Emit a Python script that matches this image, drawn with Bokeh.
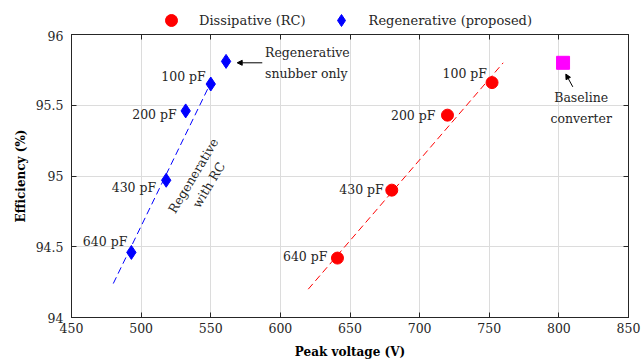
import math
from bokeh.plotting import figure
from bokeh.layouts import column
from bokeh.models import (ColumnDataSource, LinearAxis, Legend, LegendItem, Arrow,
                          NormalHead, FixedTicker, Range1d, Label)
from bokeh.core.properties import value
from bokeh.embed import file_html
from bokeh.resources import INLINE

# ---- data ----
regen_v = [493, 518, 532, 550]
regen_eff = [94.46, 94.97, 95.46, 95.65]
regen_labels = ["640 pF", "430 pF", "200 pF", "100 pF"]

snubber_only_v = [561]
snubber_only_eff = [95.81]

diss_v = [641, 680, 720, 752]
diss_eff = [94.42, 94.90, 95.43, 95.66]
diss_labels = ["640 pF", "430 pF", "200 pF", "100 pF"]

baseline_v = [803]
baseline_eff = [95.80]

regen_fit_v = [480, 550]
regen_fit_eff = [94.24, 95.66]
diss_fit_v = [620, 760]
diss_fit_eff = [94.20, 95.80]

x_ticks = [450, 500, 550, 600, 650, 700, 750, 800, 850]
y_ticks = [94, 94.5, 95, 95.5, 96]

series_names = ["Dissipative (RC)", "Regenerative (proposed)"]

FONT = "DejaVu Serif"

p = figure(width=642, height=334, output_backend="svg", toolbar_location=None,
           x_range=Range1d(450, 850), y_range=Range1d(94, 96),
           min_border_left=71, min_border_right=14, min_border_top=4, min_border_bottom=47)
p.outline_line_color = "#262626"
p.background_fill_color = "white"
p.border_fill_color = "white"

for ax in (p.xaxis[0], p.yaxis[0]):
    ax.major_tick_in = 5
    ax.major_tick_out = 0
    ax.minor_tick_line_color = None
    ax.axis_line_color = "#262626"
    ax.major_tick_line_color = "#262626"
    ax.major_label_text_font = FONT
    ax.major_label_text_font_size = "12.5px"
    ax.major_label_text_color = "#262626"
    ax.axis_label_text_font = FONT
    ax.axis_label_text_font_style = "bold"
    ax.axis_label_text_font_size = "12px"
    ax.axis_label_text_color = "black"

p.xaxis.ticker = FixedTicker(ticks=x_ticks)
p.yaxis.ticker = FixedTicker(ticks=y_ticks)
p.xaxis.axis_label = "Peak voltage (V)"
p.yaxis.axis_label = "Efficiency (%)"
p.xaxis.major_label_standoff = 5
p.yaxis.major_label_standoff = 8
p.xaxis.axis_label_standoff = 9
p.yaxis.axis_label_standoff = 5

for side, tick in (("above", x_ticks), ("right", y_ticks)):
    ax = LinearAxis(ticker=FixedTicker(ticks=tick))
    ax.major_tick_in = 5
    ax.major_tick_out = 0
    ax.minor_tick_line_color = None
    ax.major_label_text_font_size = "1px"
    ax.major_label_text_color = None
    ax.major_label_standoff = 0
    ax.axis_line_color = "#262626"
    ax.major_tick_line_color = "#262626"
    p.add_layout(ax, side)

p.grid.grid_line_color = "#dcdcdc"
p.grid.grid_line_width = 1
p.xgrid.ticker = FixedTicker(ticks=x_ticks)
p.ygrid.ticker = FixedTicker(ticks=y_ticks)

# fit lines
p.line(regen_fit_v, regen_fit_eff, line_color="blue", line_dash="7 4", line_width=1)
p.line(diss_fit_v, diss_fit_eff, line_color="red", line_dash="7 4", line_width=1)

# markers
p.scatter(diss_v, diss_eff, marker="circle", size=12, fill_color="red", line_color="red")
p.scatter(regen_v, regen_eff, marker="diamond", size=14, fill_color="blue", line_color="blue")
p.scatter(snubber_only_v, snubber_only_eff, marker="diamond", size=14, fill_color="blue", line_color="blue")
p.scatter(baseline_v, baseline_eff, marker="square", size=13, fill_color="magenta", line_color="magenta")

# point labels
regen_xoff = [-4, -10, -9, -5]
regen_yoff = [-11, 7, 4, -8]
diss_xoff = [-10, -8, -12, -5]
diss_yoff = [-2, -1, 0, -9]
src_rl = ColumnDataSource(dict(x=regen_v, y=regen_eff, t=regen_labels, xo=regen_xoff, yo=regen_yoff))
src_dl = ColumnDataSource(dict(x=diss_v, y=diss_eff, t=diss_labels, xo=diss_xoff, yo=diss_yoff))
for src in (src_rl, src_dl):
    p.text(x="x", y="y", text="t", x_offset="xo", y_offset="yo", source=src,
           text_font=value(FONT), text_font_size="12.5px", text_align="right",
           text_baseline="middle", text_color="#262626")

# annotations
p.add_layout(Label(x=589, y=95.80, text="Regenerative\nsnubber only", text_font=FONT,
                   text_font_size="12.5px", text_align="left", text_baseline="middle",
                   text_line_height=1.4, text_color="#262626"))
p.add_layout(Arrow(x_start=587, y_start=95.80, x_end=569, y_end=95.80, line_width=1,
                   line_color="black",
                   end=NormalHead(size=5, fill_color="black", line_color="black")))
p.add_layout(Label(x=816, y=95.48, text="Baseline\nconverter", text_font=FONT,
                   text_font_size="12.5px", text_align="center", text_baseline="middle",
                   text_line_height=1.4, text_color="#262626"))
p.add_layout(Arrow(x_start=810, y_start=95.63, x_end=805, y_end=95.72, line_width=1,
                   line_color="black",
                   end=NormalHead(size=5, fill_color="black", line_color="black")))
p.add_layout(Label(x=543, y=94.97, text="Regenerative\nwith RC", text_font=FONT,
                   text_font_size="12.5px", text_align="center", text_baseline="middle",
                   angle=math.radians(59), text_line_height=1.2, text_color="#262626"))

# ---- legend strip above the plot ----
lg = figure(width=642, height=30, output_backend="svg", toolbar_location=None,
            x_range=Range1d(0, 1), y_range=Range1d(0, 1),
            min_border_left=0, min_border_right=0, min_border_top=0, min_border_bottom=0)
lg.axis.visible = False
lg.grid.visible = False
lg.outline_line_color = None
lg.border_fill_color = "white"
lg.background_fill_color = "white"
# off-screen proxies, only used to draw the legend swatches
lr_diss = lg.scatter(x=[-10], y=[-10], marker="circle", size=12, fill_color="red", line_color="red")
lr_regen = lg.scatter(x=[-10], y=[-10], marker="diamond", size=14, fill_color="blue", line_color="blue")
legend = Legend(items=[LegendItem(label=series_names[0], renderers=[lr_diss]),
                       LegendItem(label=series_names[1], renderers=[lr_regen])],
                orientation="horizontal", location=(85, -5))
legend.label_text_font = FONT
legend.label_text_font_size = "13px"
legend.label_text_color = "#262626"
legend.label_height = 16
legend.glyph_height = 30
legend.glyph_width = 30
legend.label_standoff = 13
legend.spacing = 20
legend.padding = 0
legend.margin = 0
legend.border_line_alpha = 0
legend.background_fill_alpha = 0
lg.add_layout(legend, "center")

layout = column(lg, p, spacing=0)
open("out.html", "w").write(file_html(layout, INLINE))
